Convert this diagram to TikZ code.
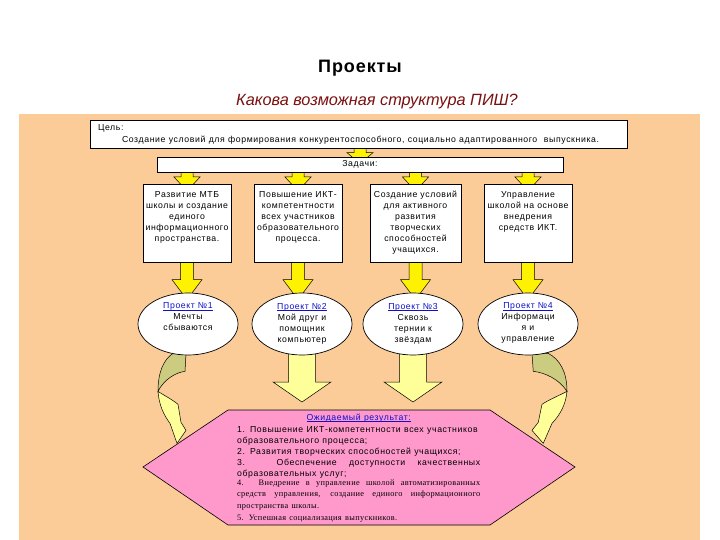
\documentclass[tikz,border=0pt]{standalone}
\usepackage{fontspec}
\setmainfont{Liberation Sans}
\newfontfamily\serifru{Liberation Serif}[LetterSpace=4]
\usepackage{xcolor}
\definecolor{peach}{HTML}{FBCB98}
\definecolor{pinkhex}{HTML}{FF99CC}
\definecolor{paleyellow}{HTML}{FFFF99}
\definecolor{khaki}{HTML}{CCCC80}
\definecolor{linkblue}{HTML}{1010CC}
\definecolor{darkred}{HTML}{7A1010}
\usetikzlibrary{shapes.geometric,calc,positioning}

\pgfdeclarelayer{back}
\pgfdeclarelayer{links}
\pgfsetlayers{back,links,main}

\newcommand\boxfont{\fontsize{8.7}{11}\selectfont\addfontfeatures{LetterSpace=7}}
\newcommand\projlink[1]{\textcolor{linkblue}{\setbox0\hbox{#1}\rlap{\rule[-1.3pt]{\wd0}{0.5pt}}\box0}}
\newcommand\spreadline[1]{{\spaceskip=0pt\xspaceskip=0pt\makebox[243pt][s]{#1}}}
\newcommand\elltext[1]{\vbox to 42pt{\hsize=60pt\centering\boxfont #1\par\vfil}}
% block arrow: style, start, end, shaft half, head half, head length, overlap
\newcommand\blockarrow[7]{%
  \path[#1] let \p1=#2, \p2=#3 in
    (\x1-#4,\y1+2pt) -- (\x1+#4,\y1+2pt) -- (\x1+#4,\y2-#7+#6) -- (\x1+#5,\y2-#7+#6)
    -- (\x1,\y2-#7) -- (\x1-#5,\y2-#7+#6) -- (\x1-#4,\y2-#7+#6) -- cycle;}
% curved ribbon arrow, local coordinates (x outward, y down)
\newcommand\curvedband{%
  \filldraw[fill=khaki,draw=black,line width=0.5pt] (0,0) -- (13,0)
    .. controls (22,6) and (28,18) .. (28,38)
    .. controls (22,26) and (10,19) .. (1,18) -- cycle;
  \filldraw[fill=paleyellow,draw=black,line width=0.5pt] (28,38)
    .. controls (27,52) and (22,62) .. (16,70) -- (9,90) -- (0,77) -- (5,69) -- (8,51)
    .. controls (14,46) and (22,42) .. (28,38) -- cycle;}

\tikzset{
  plainbox/.style={draw=black,fill=white,line width=0.7pt,inner sep=0pt},
  taskbox/.style={plainbox,anchor=north,minimum width=88pt,inner ysep=7pt},
  projell/.style={ellipse,draw=black,fill=white,line width=0.7pt,
    minimum width=100pt,minimum height=62pt,inner sep=0pt},
  smallarrow/.style={fill=yellow,draw=black,line width=0.5pt},
  bigarrow/.style={fill=paleyellow,draw=black,line width=0.5pt},
  hexshape/.style={fill=pinkhex,draw=black,line width=0.6pt},
}

\begin{document}
\begin{tikzpicture}[x=1pt,y=-1pt]
  \useasboundingbox (0,0) rectangle (720,540);
  \begin{pgfonlayer}{back}
    \fill[peach] (19,114) rectangle (700,540);
  \end{pgfonlayer}

  % headings
  \node[font=\fontsize{18}{20}\selectfont\bfseries\addfontfeatures{LetterSpace=5}] (title) at (360,68) {Проекты};
  \node[font=\fontsize{16.3}{20}\selectfont\itshape,text=darkred] (question) at (377,102) {Какова возможная структура ПИШ?};

  % goal and tasks
  \node[plainbox,minimum width=537pt,minimum height=28pt,text width=521pt,inner xsep=8pt,align=left]
    (goal) at (358.5,134) {\fontsize{8.7}{13}\selectfont\addfontfeatures{LetterSpace=7}Цель:\\
    \hspace*{24pt}Создание условий для формирования конкурентоспособного, социально адаптированного\ \ выпускника.};
  \node[plainbox,minimum width=406pt,minimum height=15pt] (tasks) at (360,164.5) {\boxfont Задачи:};

  \node[taskbox] (t1) at (187,184) {\parbox[t][64pt][t]{86pt}{\centering\boxfont
    Развитие МТБ\\школы и создание\\единого\\информационного\\пространства.}};
  \node[taskbox] (t2) at (298,184) {\parbox[t][64pt][t]{86pt}{\centering\boxfont
    Повышение ИКТ-\\компетентности\\всех участников\\образовательного\\процесса.}};
  \node[taskbox,minimum width=91pt] (t3) at (415.5,184) {\parbox[t][64pt][t]{88pt}{\centering\boxfont
    Создание условий\\для активного\\развития\\творческих\\способностей\\учащихся.}};
  \node[taskbox] (t4) at (528,184) {\parbox[t][64pt][t]{86pt}{\centering\boxfont
    Управление\\школой на основе\\внедрения\\средств ИКТ.}};

  % projects
  \node[projell] (p1) at (188,324) {\elltext{\projlink{Проект №1}\\Мечты\\сбываются}};
  \node[projell] (p2) at (302,324) {\elltext{\projlink{Проект №2}\\Мой друг и\\помощник\\компьютер}};
  \node[projell] (p3) at (413,324) {\elltext{\projlink{Проект №3}\\Сквозь\\тернии к\\звёздам}};
  \node[projell] (p4) at (528,324) {\elltext{\projlink{Проект №4}\\Информаци\\я и\\управление}};

  % expected result
  \draw[hexshape] (143,467) -- (228,410) -- (490,410) -- (575,467) -- (490,525) -- (228,525) -- cycle;
  \coordinate (restop) at (360,402);
  \node[anchor=north west,text width=260pt,inner sep=0pt,align=left] (res) at (237,414) {%
    \boxfont\makebox[243pt][c]{\projlink{Ожидаемый результат:}}\\[1pt]
    1. Повышение ИКТ-компетентности всех участников\\
    образовательного процесса;\\
    2. Развития творческих способностей учащихся;\\
    \spreadline{3. Обеспечение доступности качественных}\\
    образовательных услуг;\\[-3pt]
    {\serifru\fontsize{8.3}{11.5}\selectfont
    \spreadline{4. Внедрение в управление школой автоматизированных}\\
    \spreadline{средств управления, создание единого информационного}\\
    пространства школы.\\
    5. Успешная социализация выпускников.}};

  % connectors
  \begin{pgfonlayer}{links}
    \blockarrow{smallarrow}{(tasks.north |- goal.south)}{(tasks.north)}{6pt}{13pt}{11pt}{7pt}
    \foreach \tb in {t1,t2,t3,t4}
      \blockarrow{smallarrow}{(\tb.north |- tasks.south)}{(\tb.north)}{6pt}{13pt}{14pt}{7pt};
    \foreach \tb/\pe in {t1/p1,t2/p2,t3/p3,t4/p4}
      \blockarrow{smallarrow}{(\tb.south)}{(\tb.south |- \pe.north)}{6.5pt}{15pt}{20pt}{7pt};
    \foreach \pe in {p2,p3}
      \blockarrow{bigarrow}{(\pe.south)}{(\pe.south |- restop)}{13.5pt}{29pt}{20pt}{0pt};
    \begin{scope}[shift={($(p4.south)+(4,-2)$)},xscale=1.25]
      \curvedband
    \end{scope}
    \begin{scope}[shift={($(p1.south)+(-2,-2)$)},xscale=-1]
      \curvedband
    \end{scope}
  \end{pgfonlayer}
\end{tikzpicture}
\end{document}
